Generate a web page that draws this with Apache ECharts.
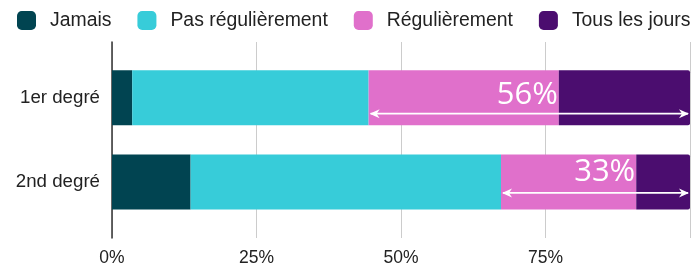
<!DOCTYPE html>
<html>
<head>
<meta charset="utf-8">
<script src="https://cdn.jsdelivr.net/npm/echarts@6/dist/echarts.min.js"></script>
<style>
  html, body { margin: 0; padding: 0; background: #fff; }
  #chart { width: 691px; height: 267px; }
</style>
</head>
<body>
<div id="chart"></div>
<script>
// valeurs (en %)
var categories = ['1er degré', '2nd degré'];
var jamais = [3.5, 13.6];
var pasRegulierement = [40.9, 53.7];
var regulierement = [32.9, 23.4];
var tousLesJours = [22.7, 9.3];
var arrowLabels = ['56%', '33%'];

var colors = ['#014451', '#37ccd9', '#e070cb', '#4b0d6f'];
var fontFamily = '"Liberation Sans", Arial, sans-serif';

// flèches : de la fin de "Pas régulièrement" jusqu'à 100%
var arrowData = categories.map(function (c, i) {
  var start = jamais[i] + pasRegulierement[i];
  return [start, 100, i, start + regulierement[i]];
});
var arrowDy = [16, 11];
var labelDy = [-2, -10];

function arrowHead(x, y, dir) {
  return {
    type: 'polygon',
    shape: { points: [[x, y], [x - dir * 10, y - 4.5], [x - dir * 7, y], [x - dir * 10, y + 4.5]] },
    style: { fill: '#fff' }
  };
}

var chart = echarts.init(document.getElementById('chart'));
chart.setOption({
  animation: false,
  color: colors,
  legend: {
    left: 17, top: 11, padding: 0,
    icon: 'roundRect',
    itemWidth: 19, itemHeight: 19, itemGap: 26,
    textStyle: { fontSize: 19.4, color: '#222', fontFamily: fontFamily, padding: [0, 0, 0, 9] },
    data: ['Jamais', 'Pas régulièrement', 'Régulièrement', 'Tous les jours']
  },
  grid: [
    { left: 112, width: 578, top: 55.5, height: 168.5 },
    { left: 112, width: 578, top: 42, height: 197.5 }
  ],
  xAxis: [
    { gridIndex: 0, type: 'value', min: 0, max: 100, show: false },
    {
      gridIndex: 1, type: 'value', min: 0, max: 100, interval: 25,
      axisLine: { show: false }, axisTick: { show: false },
      splitLine: { lineStyle: { color: '#cccccc', width: 1 } },
      axisLabel: { formatter: '{value}%', showMaxLabel: false, margin: 11, fontSize: 17.5, color: '#222', fontFamily: fontFamily }
    }
  ],
  yAxis: [
    {
      gridIndex: 0, type: 'category', data: categories, inverse: true,
      axisLine: { show: false }, axisTick: { show: false },
      axisLabel: { margin: 12, fontSize: 18.7, color: '#222', fontFamily: fontFamily }
    },
    {
      gridIndex: 1, type: 'value', min: 0, max: 1,
      axisLine: { show: true, lineStyle: { color: '#333', width: 1.5 } },
      axisTick: { show: false }, axisLabel: { show: false }, splitLine: { show: false }
    }
  ],
  series: [
    { name: 'Jamais', type: 'bar', stack: 'a', barWidth: 55, data: jamais },
    { name: 'Pas régulièrement', type: 'bar', stack: 'a', barWidth: 55, data: pasRegulierement },
    { name: 'Régulièrement', type: 'bar', stack: 'a', barWidth: 55, data: regulierement },
    { name: 'Tous les jours', type: 'bar', stack: 'a', barWidth: 55, data: tousLesJours,
      itemStyle: { borderRadius: [0, 2, 2, 0] } },
    {
      type: 'custom', xAxisIndex: 0, yAxisIndex: 0, z: 10, silent: true,
      data: arrowData,
      renderItem: function (params, api) {
        var i = api.value(2);
        var p1 = api.coord([api.value(0), i]);
        var p2 = api.coord([api.value(1), i]);
        var pt = api.coord([api.value(3), i]);
        var y = p1[1] + arrowDy[i];
        return {
          type: 'group',
          children: [
            { type: 'line', shape: { x1: p1[0] + 2, y1: y, x2: p2[0] - 2, y2: y },
              style: { stroke: '#fff', lineWidth: 1.6 } },
            arrowHead(p1[0] + 1, y, -1),
            arrowHead(p2[0] - 1, y, 1),
            { type: 'text',
              style: { x: pt[0] - 1, y: p1[1] + labelDy[i], text: arrowLabels[i], fill: '#fff',
                       font: '31px "Open Sans", "Noto Sans", sans-serif', align: 'right', verticalAlign: 'middle' } }
          ]
        };
      }
    }
  ]
});
</script>
</body>
</html>
